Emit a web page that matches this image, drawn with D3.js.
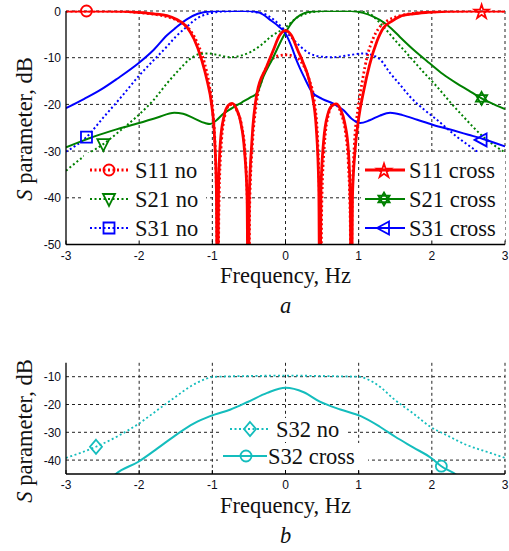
<!DOCTYPE html>
<html>
<head>
<meta charset="utf-8">
<script src="https://cdn.jsdelivr.net/npm/d3@7/dist/d3.min.js"></script>
<style>
body { margin: 0; background: #fff; }
svg { display: block; }
.tk { font-family: "Liberation Sans", Arial, sans-serif; font-size: 12px; fill: #0c0c18; }
.serif { font-family: "Liberation Serif", "Times New Roman", serif; fill: #111; }
</style>
</head>
<body>
<svg id="chart" width="509" height="551"></svg>
<script>
// tick labels
var freqTicks = [-3, -2, -1, 0, 1, 2, 3];
var topTicks = [0, -10, -20, -30, -40, -50];
var botTicks = [-10, -20, -30, -40];

// panel a : [frequency, dB]
var s11Cross = [[-3,0],[-2.5,0],[-2.2,-0.05],[-2.0,-0.3],[-1.8,-0.6],[-1.62,-1.0],[-1.5,-1.7],[-1.35,-3.4],[-1.25,-6],
  [-1.145,-10.5],[-1.07,-15],[-1.01,-20],[-0.97,-27],[-0.945,-38],[-0.93,-70],[-0.915,-38],[-0.89,-28],[-0.84,-22.5],
  [-0.78,-20.2],[-0.73,-19.8],[-0.67,-21],[-0.61,-24],[-0.56,-30],[-0.525,-40],[-0.51,-70],[-0.495,-40],[-0.46,-28],
  [-0.39,-17.6],[-0.26,-12],[-0.17,-8.5],[-0.08,-5.2],[0,-4.2],[0.08,-5.2],[0.17,-8.5],[0.24,-11],[0.36,-17.6],
  [0.42,-25],[0.455,-38],[0.47,-70],[0.485,-38],[0.52,-28],[0.58,-22],[0.64,-20.2],[0.69,-19.9],[0.75,-21],
  [0.81,-24],[0.86,-30],[0.885,-40],[0.9,-70],[0.915,-40],[0.95,-30],[1.0,-23],[1.07,-17],[1.15,-11.5],[1.25,-6.5],
  [1.34,-3.6],[1.45,-2.2],[1.56,-1.2],[1.75,-0.6],[1.93,-0.3],[2.2,-0.05],[2.5,0],[3,0]];
var s11No = [[-3,0],[-2.5,0],[-2.2,-0.1],[-2.0,-0.35],[-1.8,-0.7],[-1.6,-1.3],[-1.45,-2.3],[-1.3,-4.2],[-1.2,-7],
  [-1.11,-11],[-1.04,-16],[-0.99,-22],[-0.96,-30],[-0.94,-42],[-0.925,-70],[-0.91,-42],[-0.88,-29],[-0.83,-22.5],
  [-0.77,-20.2],[-0.72,-20],[-0.66,-21.5],[-0.6,-24.5],[-0.55,-31],[-0.52,-42],[-0.505,-70],[-0.49,-42],[-0.45,-28],
  [-0.4,-20],[-0.32,-14.5],[-0.22,-11],[-0.1,-9.6],[0,-9.4],[0.1,-9.6],[0.22,-11],[0.32,-14.5],[0.4,-20],[0.44,-28],
  [0.465,-42],[0.48,-70],[0.495,-42],[0.53,-29],[0.59,-22],[0.65,-20.1],[0.7,-20.2],[0.76,-22],[0.82,-26],[0.86,-33],
  [0.885,-45],[0.895,-70],[0.91,-42],[0.94,-29],[0.99,-21],[1.05,-15],[1.12,-9.5],[1.2,-5.8],[1.28,-3.6],[1.4,-2],
  [1.55,-1.1],[1.75,-0.5],[2.0,-0.2],[2.3,0],[3,0]];
var s21Cross = [[-3,-29.2],[-2.62,-26.9],[-2.3,-25.3],[-2.0,-24],[-1.75,-22.8],[-1.52,-21.8],[-1.4,-22],[-1.25,-23],
  [-1.1,-24],[-1.03,-24.2],[-0.95,-23.5],[-0.85,-22],[-0.73,-20.8],[-0.6,-19.6],[-0.48,-18.5],[-0.39,-17.6],
  [-0.3,-14],[-0.17,-10],[-0.08,-7],[0,-4.6],[0.1,-2.2],[0.2,-0.9],[0.33,-0.15],[0.5,0],[0.9,0],[1.06,-0.4],
  [1.2,-1.2],[1.34,-2.4],[1.45,-3.8],[1.56,-5.5],[1.75,-8.3],[1.97,-11.2],[2.15,-13.5],[2.34,-15.5],[2.5,-17],
  [2.68,-18.7],[2.85,-20],[3,-21]];
var s31Cross = [[-3,-20.8],[-2.75,-18.8],[-2.53,-16.9],[-2.3,-14.5],[-2.01,-11.2],[-1.8,-8.3],[-1.62,-5.2],[-1.5,-3.6],
  [-1.35,-1.8],[-1.2,-0.6],[-1.1,-0.2],[-0.9,0],[-0.5,0],[-0.35,-0.4],[-0.21,-1.9],[-0.1,-3.2],[0,-4.8],[0.08,-7.5],
  [0.15,-10.5],[0.25,-14],[0.36,-17.3],[0.5,-18.8],[0.65,-19.8],[0.79,-21.2],[0.9,-23],[1.02,-24],[1.15,-23.4],
  [1.29,-22.4],[1.43,-21.8],[1.6,-22.3],[1.8,-23.3],[2.02,-24.4],[2.3,-25.6],[2.5,-26.5],[2.7,-27.4],[3,-29]];
var s21No = [[-3,-34.2],[-2.76,-31.2],[-2.49,-28.5],[-2.25,-25.5],[-2.01,-22.3],[-1.8,-19],[-1.62,-15.5],[-1.45,-12.5],
  [-1.3,-10.2],[-1.17,-9.2],[-1.05,-9.1],[-0.9,-9.5],[-0.76,-9.9],[-0.62,-9.6],[-0.48,-8.8],[-0.35,-7.5],[-0.2,-5.5],
  [0,-3.5],[0.15,-1.5],[0.29,-0.5],[0.45,-0.1],[0.6,0],[1.0,0],[1.15,-0.6],[1.34,-3.4],[1.5,-6.3],[1.7,-9.8],
  [1.88,-13],[2.07,-16.2],[2.25,-19.5],[2.43,-22.6],[2.7,-26.9],[3,-30.3]];
var s31No = [[-3,-30.1],[-2.72,-27],[-2.5,-23],[-2.25,-18.5],[-2.01,-14],[-1.8,-10.5],[-1.62,-7.6],[-1.5,-5.5],
  [-1.35,-3.4],[-1.2,-1.5],[-1.03,-0.5],[-0.85,-0.1],[-0.6,0],[-0.3,-0.6],[-0.15,-2],[0,-4.3],[0.15,-6.8],[0.33,-9.1],
  [0.5,-9.8],[0.65,-9.9],[0.85,-9.5],[1.06,-9.1],[1.18,-9.4],[1.3,-10.5],[1.43,-13.3],[1.55,-15.5],[1.7,-18.3],
  [1.9,-21.2],[2.07,-23.3],[2.34,-26.9],[2.61,-30],[2.8,-32.3],[3,-34.2]];

// panel b
var s32No = [[-3,-39.2],[-2.59,-35.2],[-2.3,-31.5],[-2,-26.8],[-1.75,-22],[-1.5,-17.2],[-1.3,-13.5],[-1.1,-10.9],
  [-1,-10.1],[-0.8,-9.9],[-0.4,-9.7],[0,-9.6],[0.4,-9.7],[0.8,-9.9],[1.0,-10],[1.1,-10.7],[1.3,-13.8],[1.47,-17.8],
  [1.75,-23.3],[1.98,-28],[2.2,-31],[2.48,-34.6],[2.75,-37],[3,-39.2]];
var s32Cross = [[-2.4,-47],[-2.32,-45],[-2.01,-40.6],[-1.75,-35.8],[-1.5,-31],[-1.25,-26.8],[-1.03,-24.2],[-0.75,-21.8],
  [-0.51,-19],[-0.25,-15.8],[0,-14],[0.25,-15.6],[0.47,-19],[0.75,-21.8],[1.03,-24.2],[1.29,-28],[1.5,-31.6],
  [1.75,-35.5],[2.0,-39.4],[2.13,-42.2],[2.32,-45],[2.4,-46.5]];

// one marker per curve
var markerPts = {
  s11No: [-2.72, 0], s21No: [-2.49, -28.5], s31No: [-2.72, -27],
  s11Cross: [2.68, 0], s21Cross: [2.68, -18.7], s31Cross: [2.68, -27.6],
  s32No: [-2.59, -35.2], s32Cross: [2.13, -42.2]
};

var RED = "#ff0000", GREEN = "#008000", BLUE = "#0000ff", CYAN = "#14bdbd";

var svg = d3.select("#chart");
var x = d3.scaleLinear().domain([-3, 3]).range([66, 505]);

function markerPath(type, cx, cy) {
  var p = d3.path();
  if (type === "o") { p.moveTo(cx + 5.5, cy); p.arc(cx, cy, 5.5, 0, 2 * Math.PI); }
  else if (type === "s") { p.rect(cx - 5.5, cy - 5.5, 11, 11); }
  else if (type === "v") { p.moveTo(cx - 6, cy - 5); p.lineTo(cx + 6, cy - 5); p.lineTo(cx, cy + 7); p.closePath(); }
  else if (type === "<") { p.moveTo(cx - 7, cy); p.lineTo(cx + 5, cy - 6.5); p.lineTo(cx + 5, cy + 6.5); p.closePath(); }
  else if (type === "d") { p.moveTo(cx, cy - 7); p.lineTo(cx + 6, cy); p.lineTo(cx, cy + 7); p.lineTo(cx - 6, cy); p.closePath(); }
  else if (type === "h") {
    // hexagram: two overlapping triangles
    [0, Math.PI].forEach(function (off) {
      for (var k = 0; k < 3; k++) {
        var a = off - Math.PI / 2 + k * 2 * Math.PI / 3;
        var px = cx + 6.5 * Math.cos(a), py = cy + 6.5 * Math.sin(a);
        if (k === 0) p.moveTo(px, py); else p.lineTo(px, py);
      }
      p.closePath();
    });
  }
  else if (type === "p") {
    return d3.symbol().type(d3.symbolStar).size(62)().toString();
  }
  return p.toString();
}

function drawMarker(g, type, cx, cy, color) {
  var path = g.append("path")
    .attr("d", markerPath(type, type === "p" ? 0 : cx, type === "p" ? 0 : cy))
    .attr("fill", "none").attr("stroke", color).attr("stroke-width", 1.8);
  if (type === "p") path.attr("transform", "translate(" + cx + "," + (cy + 1) + ")");
}

function drawPanel(opt) {
  var y = opt.y;
  var g = svg.append("g");
  var x0 = x.range()[0], x1 = x.range()[1];
  var yb = y.range()[0], yt = y.range()[1];

  // grid
  g.selectAll(".vg").data(freqTicks.slice(1)).enter().append("line")
    .attr("x1", function (d) { return x(d); }).attr("x2", function (d) { return x(d); })
    .attr("y1", yt).attr("y2", yb)
    .attr("stroke", "#222").attr("stroke-width", 1).attr("stroke-dasharray", "3,3");
  g.selectAll(".hg").data(opt.grid).enter().append("line")
    .attr("x1", x0).attr("x2", x1)
    .attr("y1", function (d) { return y(d); }).attr("y2", function (d) { return y(d); })
    .attr("stroke", "#222").attr("stroke-width", 1).attr("stroke-dasharray", "3,3");

  // curves are clipped to the axes box, like the original
  var clipId = "clip" + opt.id;
  svg.append("clipPath").attr("id", clipId).append("rect")
    .attr("x", x0).attr("y", yt - 0.3).attr("width", x1 - x0 + 1).attr("height", yb - yt + 0.3);

  var line = d3.line()
    .x(function (d) { return x(d[0]); })
    .y(function (d) { return y(d[1]); })
    .curve(d3.curveMonotoneX);

  var cg = g.append("g").attr("clip-path", "url(#" + clipId + ")");
  opt.series.forEach(function (s) {
    cg.append("path").datum(s.data).attr("d", line)
      .attr("fill", "none").attr("stroke", s.color).attr("stroke-width", s.w)
      .attr("stroke-dasharray", s.dotted ? "2,2.5" : null)
      .attr("stroke-linejoin", "round");
  });
  opt.series.forEach(function (s) {
    var m = markerPts[s.key];
    drawMarker(g, s.marker, x(m[0]), y(m[1]), s.color);
  });

  // legends (white boxes, no border)
  opt.legends.forEach(function (lg) {
    lg.boxes.forEach(function (b) {
      g.append("rect").attr("x", b[0]).attr("y", b[1])
        .attr("width", b[2]).attr("height", b[3]).attr("fill", "#fff");
    });
    lg.items.forEach(function (it) {
      var s = opt.series.filter(function (q) { return q.key === it.key; })[0];
      g.append("line").attr("x1", it.lx[0]).attr("x2", it.lx[1]).attr("y1", it.ly).attr("y2", it.ly)
        .attr("stroke", s.color).attr("stroke-width", s.w)
        .attr("stroke-dasharray", s.dotted ? "2,2.5" : null);
      drawMarker(g, s.marker, it.mx, it.ly, s.color);
      g.append("text").attr("class", "serif").attr("x", it.tx).attr("y", it.ly + 7.5)
        .attr("font-size", 22.5).text(s.label);
    });
  });

  // axes: left and bottom only
  g.append("line").attr("x1", x0).attr("x2", x0).attr("y1", yt).attr("y2", yb)
    .attr("stroke", "#000").attr("stroke-width", 1.3);
  g.append("line").attr("x1", x0).attr("x2", x1).attr("y1", yb).attr("y2", yb)
    .attr("stroke", "#000").attr("stroke-width", 1.3);
  g.selectAll(".xt").data(freqTicks).enter().append("line")
    .attr("x1", function (d) { return x(d); }).attr("x2", function (d) { return x(d); })
    .attr("y1", yb).attr("y2", yb - 4).attr("stroke", "#000");
  g.selectAll(".xl").data(freqTicks).enter().append("text").attr("class", "tk")
    .attr("x", function (d) { return x(d); }).attr("y", yb + 15)
    .attr("text-anchor", "middle").text(function (d) { return d; });
  g.selectAll(".yl").data(opt.ticks).enter().append("text").attr("class", "tk")
    .attr("x", x0 - 5).attr("y", function (d) { return y(d) + 4.5; })
    .attr("text-anchor", "end").text(function (d) { return d; });

  // titles
  g.append("text").attr("class", "serif").attr("font-size", 22.5)
    .attr("x", 285.5).attr("y", opt.xTitleY).attr("text-anchor", "middle").text("Frequency, Hz");
  var yl = g.append("text").attr("class", "serif").attr("font-size", 22.5)
    .attr("transform", "translate(32," + opt.yTitleMid + ") rotate(-90)")
    .attr("text-anchor", "middle");
  yl.append("tspan").attr("font-style", "italic").text("S");
  yl.append("tspan").text(" parameter, dB");
  g.append("text").attr("class", "serif").attr("font-size", 22.5).attr("font-style", "italic")
    .attr("x", 285.5).attr("y", opt.capY).attr("text-anchor", "middle").text(opt.cap);
}

drawPanel({
  id: "a",
  y: d3.scaleLinear().domain([-50, 0]).range([244.5, 11]),
  ticks: topTicks, grid: [0, -10, -20, -30, -40],
  series: [
    { key: "s11No", data: s11No, color: RED, w: 2.8, dotted: true, marker: "o", label: "S11 no" },
    { key: "s21No", data: s21No, color: GREEN, w: 2, dotted: true, marker: "v", label: "S21 no" },
    { key: "s31No", data: s31No, color: BLUE, w: 2, dotted: true, marker: "s", label: "S31 no" },
    { key: "s21Cross", data: s21Cross, color: GREEN, w: 2, dotted: false, marker: "h", label: "S21 cross" },
    { key: "s31Cross", data: s31Cross, color: BLUE, w: 2, dotted: false, marker: "<", label: "S31 cross" },
    { key: "s11Cross", data: s11Cross, color: RED, w: 2.8, dotted: false, marker: "p", label: "S11 cross" }
  ],
  legends: [
    { boxes: [[84, 153, 122, 90]], items: [
      { key: "s11No", lx: [90, 128], mx: 109, ly: 170, tx: 135 },
      { key: "s21No", lx: [90, 128], mx: 109, ly: 199, tx: 135 },
      { key: "s31No", lx: [90, 128], mx: 109, ly: 228, tx: 135 }] },
    { boxes: [[361, 152, 144, 91]], items: [
      { key: "s11Cross", lx: [365, 405], mx: 384, ly: 170, tx: 409 },
      { key: "s21Cross", lx: [365, 405], mx: 384, ly: 199, tx: 409 },
      { key: "s31Cross", lx: [365, 405], mx: 384, ly: 228, tx: 409 }] }
  ],
  xTitleY: 283, yTitleMid: 129, cap: "a", capY: 313
});

drawPanel({
  id: "b",
  y: d3.scaleLinear().domain([-45, -5]).range([474, 362.8]),
  ticks: botTicks, grid: botTicks,
  series: [
    { key: "s32No", data: s32No, color: CYAN, w: 1.8, dotted: true, marker: "d", label: "S32 no" },
    { key: "s32Cross", data: s32Cross, color: CYAN, w: 2, dotted: false, marker: "o", label: "S32 cross" }
  ],
  legends: [
    { boxes: [[222, 418, 126, 24], [218, 443, 150, 27]], items: [
      { key: "s32No", lx: [230, 269], mx: 250, ly: 429, tx: 276 },
      { key: "s32Cross", lx: [223, 267], mx: 246, ly: 456, tx: 268 }] }
  ],
  xTitleY: 513, yTitleMid: 431, cap: "b", capY: 543
});
</script>
</body>
</html>
